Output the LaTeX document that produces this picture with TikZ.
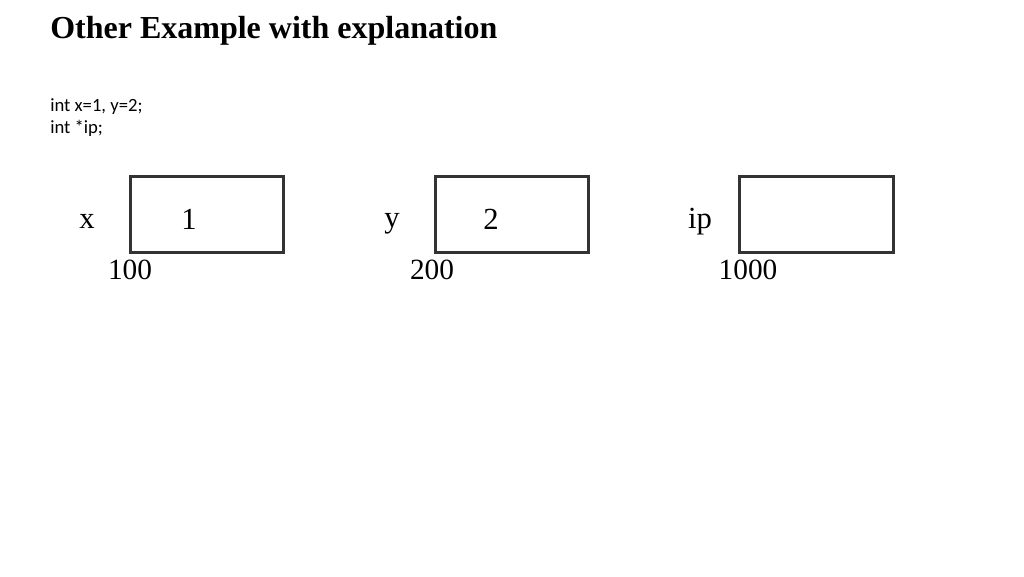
\documentclass[tikz,border=0pt]{standalone}
\usepackage{fontspec}
\setmainfont{Liberation Serif}
\newfontfamily\codefont{Carlito}
\begin{document}
\begin{tikzpicture}[x=0.75pt,y=-0.75pt,
  cell/.style={draw=black!80,line width=2.25pt},
  lbl/.style={anchor=base,inner sep=0pt,font=\fontsize{23pt}{26pt}\selectfont},
  addr/.style={anchor=base,inner sep=0pt,font=\fontsize{22pt}{26pt}\selectfont},
  code/.style={anchor=base west,inner sep=0pt,font=\codefont\fontsize{14pt}{17pt}\selectfont}]
\useasboundingbox (0,0) rectangle (1024,576);
\node[anchor=base west,inner sep=0pt,font=\bfseries\fontsize{24pt}{28pt}\selectfont] (title) at (50,38) {Other Example with explanation};
\node[code] (c1) at (50,111) {int x=1, y=2;};
\node[code] (c2) at (50,133) {int *ip;};
% boxes
\draw[cell] (130,176) rectangle (283,252);
\draw[cell] (435,176) rectangle (588,252);
\draw[cell] (739,176) rectangle (893,252);
\node[lbl] (lx) at (87,228) {x};
\node[lbl] (vx) at (189,229) {1};
\node[addr] (ax) at (130,279) {100};
\node[lbl] (ly) at (392,227) {y};
\node[lbl] (vy) at (491,229) {2};
\node[addr] (ay) at (432,279) {200};
\node[lbl] (lip) at (700,228) {ip};
\node[addr] (aip) at (748,279) {1000};
\end{tikzpicture}
\end{document}
